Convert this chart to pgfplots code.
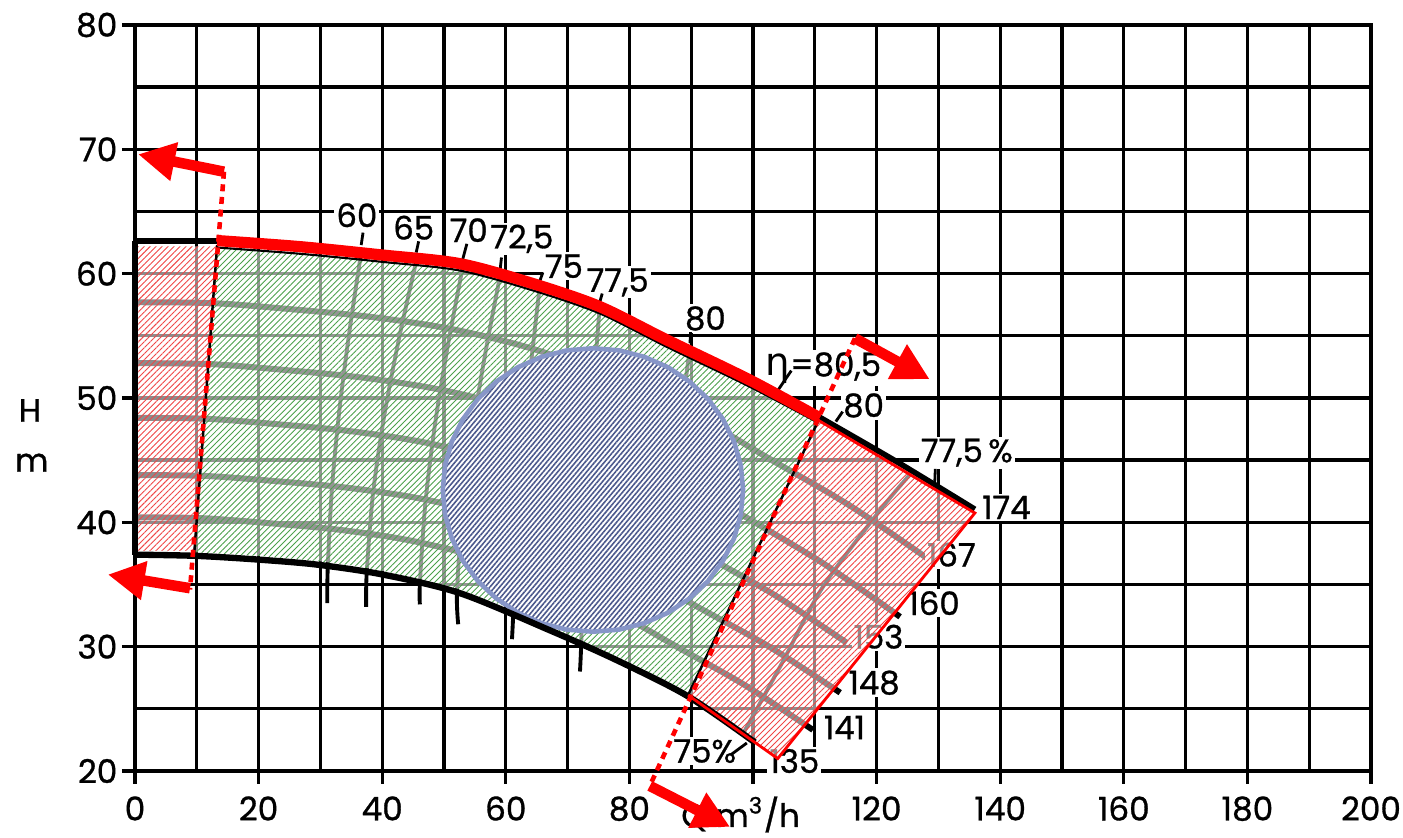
\documentclass[border=0pt]{standalone}
\usepackage{fontspec}
\setmainfont{Poppins}
\newfontfamily\lf{Poppins}[FakeBold=0.9]
\newfontfamily\gk{DejaVu Sans}
\usepackage{pgfplots}
\pgfplotsset{compat=1.18}
\usetikzlibrary{patterns,patterns.meta,arrows.meta}
\definecolor{hred}{RGB}{240,70,70}
\definecolor{hgreen}{RGB}{75,160,75}
\definecolor{hblue}{RGB}{75,88,140}
\definecolor{cblue}{RGB}{135,150,200}
\tikzset{
  hatchR/.style={pattern={Lines[angle=45,distance=1.2pt,line width=0.26pt]}, pattern color=hred},
  hatchG/.style={pattern={Lines[angle=45,distance=1.2pt,line width=0.25pt]}, pattern color=hgreen},
  hatchB/.style={pattern={Lines[angle=50,distance=1.05pt,line width=0.45pt]}, pattern color=hblue},
  lab/.style={fill=white, inner sep=0.6pt, font=\lf\fontsize{9.2}{11}\selectfont},
  bigarrow/.style={red, line width=3pt, -{Triangle[length=10.5pt,width=10.5pt]}},
  reddots/.style={red, line width=1.3pt, dash pattern=on 2pt off 1.6pt},
}
\begin{document}
\begin{tikzpicture}
\path[use as bounding box] (-1.35cm,-0.67cm) rectangle (12.68cm,7.71cm);
\begin{axis}[
  at={(0,0)}, anchor=south west,
  width=12.36cm, height=7.46cm, scale only axis,
  xmin=0, xmax=200, ymin=20, ymax=80,
  xtick={0,20,...,200}, ytick={20,30,...,80},
  xticklabels={0,20,40,60,80,,120,140,160,180,200},
  minor xtick={10,30,...,190}, minor ytick={25,35,...,75},
  tick pos=left, tick align=outside,
  major tick length=3.7pt, minor tick length=0pt,
  grid=both,
  major grid style={black, line width=0.95pt},
  minor grid style={black, line width=0.95pt},
  axis line style={black, line width=1pt},
  tick style={black, line width=0.95pt},
  clip=false,
  /pgf/number format/assume math mode=true,
  ticklabel style={font=\lf\fontsize{9.3}{11}\selectfont},
  yticklabel style={xshift=2.2pt},
]
% ---- head curves of intermediate impellers (appear grey under overlay)
\addplot[black,line width=1.7pt,smooth] coordinates {(0,57.7)(12.85,57.62)(25.7,57.12)(38.55,56.5)(51.4,55.53)(64.25,53.97)(77.1,51.7)(89.95,48.8)(102.8,45.07)(115.65,41.35)(128.5,37.0)};
\addplot[black,line width=1.7pt,smooth] coordinates {(0,52.8)(12.38,52.72)(24.76,52.23)(37.14,51.62)(49.52,50.66)(61.9,49.13)(74.28,46.88)(86.66,44.03)(99.04,40.36)(111.42,36.68)(123.8,32.4)};
\addplot[black,line width=1.7pt,smooth] coordinates {(0,48.4)(11.52,48.33)(23.04,47.89)(34.56,47.35)(46.08,46.5)(57.6,45.14)(69.12,43.15)(80.64,40.62)(92.16,37.36)(103.68,34.1)(115.2,30.3)};
\addplot[black,line width=1.7pt,smooth] coordinates {(0,43.8)(11.41,43.73)(22.82,43.31)(34.23,42.79)(45.64,41.96)(57.05,40.65)(68.46,38.73)(79.87,36.28)(91.28,33.13)(102.69,29.98)(114.1,26.3)};
\addplot[black,line width=1.7pt,smooth] coordinates {(0,40.4)(10.97,40.33)(21.94,39.92)(32.91,39.41)(43.88,38.6)(54.85,37.32)(65.82,35.44)(76.79,33.05)(87.76,29.97)(98.73,26.89)(109.7,23.3)};
% ---- iso-efficiency curves
\addplot[black,line width=1.1pt,smooth] coordinates {(36.6,61.7)(34.71,55.4)(33.09,49.1)(31.88,42.8)(31.2,36.5)(31.1,33.5)};
\addplot[black,line width=1.1pt,smooth] coordinates {(45.6,61.2)(42.77,54.9)(40.34,48.6)(38.51,42.3)(37.5,36.0)(37.4,33.2)};
\addplot[black,line width=1.1pt,smooth] coordinates {(53.1,60.7)(50.65,54.3)(48.55,47.9)(46.98,41.5)(46.1,35.1)(46.1,33.4)};
\addplot[black,line width=1.1pt,smooth] coordinates {(59.1,59.9)(56.65,53.5)(54.55,47.15)(52.98,40.8)(52.1,34.4)(52.3,31.8)};
\addplot[black,line width=1.1pt,smooth] coordinates {(65.5,59.0)(64.0,52.4)(62.7,45.8)(61.74,39.2)(61.2,32.6)(61.0,30.6)};
\addplot[black,line width=1.1pt,smooth] coordinates {(75.2,57.35)(74.15,50.6)(73.25,43.8)(72.6,37.0)(72.2,30.2)(72.0,28.0)};
\addplot[black,line width=1.1pt,smooth] coordinates {(89.8,54.0)(88.8,50.0)(88.5,46.0)};
\addplot[black,line width=1.1pt,smooth] coordinates {(98.4,23.0)(104.5,28.5)(111.3,34.8)(120.6,41.0)(125.5,43.9)};
% ---- labels
\node[lab] at (axis cs:35.9,64.7) {60};
\node[lab] at (axis cs:45.1,63.7) {65};
\node[lab] at (axis cs:54.0,63.5) {70};
\node[lab] at (axis cs:62.6,62.8) {72,5};
\node[lab] at (axis cs:69.4,60.6) {75};
\node[lab] at (axis cs:78.1,59.3) {77,5};
\node[lab] at (axis cs:92.3,56.4) {80};
\node[lab] at (axis cs:111.4,52.4) {{\gk\fontsize{11}{12}\selectfont η}=80,5};
\node[lab] at (axis cs:117.9,49.4) {80};
\node[lab] at (axis cs:134.6,45.6) {77,5\,\%};
\node[lab] at (axis cs:141.0,41.2) {174};
\node[lab] at (axis cs:132.1,37.4) {167};
\node[lab] at (axis cs:129.3,33.5) {160};
\node[lab] at (axis cs:120.3,30.8) {153};
\node[lab] at (axis cs:119.6,27.1) {148};
\node[lab] at (axis cs:114.8,23.5) {141};
\node[lab] at (axis cs:106.7,20.8) {135};
\node[lab] at (axis cs:92.2,21.6) {75\%};
% leaders
\addplot[black,line width=0.8pt] coordinates {(36.9,63.3)(36.6,62.3)};
\addplot[black,line width=0.8pt] coordinates {(45.9,62.6)(45.5,61.7)};
\addplot[black,line width=0.8pt] coordinates {(53.7,62.4)(53.0,61.1)};
\addplot[black,line width=0.8pt] coordinates {(59.3,61.3)(59.1,60.4)};
\addplot[black,line width=0.8pt] coordinates {(66.0,60.1)(65.5,59.4)};
\addplot[black,line width=0.8pt] coordinates {(75.6,58.4)(75.2,57.7)};
\addplot[black,line width=0.8pt] coordinates {(89.9,55.3)(89.8,54.4)};
\addplot[black,line width=0.8pt] coordinates {(114.5,48.9)(113.4,48.1)};
\addplot[black,line width=0.8pt] coordinates {(129.5,44.3)(129.4,43.1)};
\addplot[black,line width=0.8pt] coordinates {(106.2,52.2)(104.0,50.6)};
\addplot[black,line width=0.8pt] coordinates {(96.4,21.3)(99.0,22.25)};
% ---- overlays: left red rectangle
\addplot[draw=none, fill=white, fill opacity=0.55] coordinates {(0,62.2)(13.2,62.2)(9.6,37.7)(0,37.7)(0,62.2)};
\addplot[draw=none, hatchR] coordinates {(0,62.2)(13.2,62.2)(9.6,37.7)(0,37.7)(0,62.2)};
% green region (top curve, right edge, bottom curve, left edge)
\addplot[draw=none, fill=white, fill opacity=0.58] coordinates {(13.3,62.1)(20,61.9)(26.7,61.6)(33.3,61.3)(40,60.95)(46.3,60.65)(52.6,60.25)(58.5,59.5)(64.4,58.65)(69.8,57.8)(75.2,56.8)(80.6,55.5)(86.1,54.1)(92.8,52.5)(99.5,50.9)(105,49.5)(110.6,48.0)(89.5,26.3)(83.8,27.8)(78,29.2)(72.6,30.4)(67.2,31.6)(60,33.2)(52.6,34.6)(46.3,35.4)(40.1,36.1)(34.7,36.55)(29.4,36.9)(20,37.3)(9.7,37.6)(13.3,62.1)};
\addplot[draw=none, hatchG] coordinates {(13.3,62.1)(20,61.9)(26.7,61.6)(33.3,61.3)(40,60.95)(46.3,60.65)(52.6,60.25)(58.5,59.5)(64.4,58.65)(69.8,57.8)(75.2,56.8)(80.6,55.5)(86.1,54.1)(92.8,52.5)(99.5,50.9)(105,49.5)(110.6,48.0)(89.5,26.3)(83.8,27.8)(78,29.2)(72.6,30.4)(67.2,31.6)(60,33.2)(52.6,34.6)(46.3,35.4)(40.1,36.1)(34.7,36.55)(29.4,36.9)(20,37.3)(9.7,37.6)(13.3,62.1)};
% right red quadrilateral
\addplot[draw=none, fill=white, fill opacity=0.55] coordinates {(110.6,48.2)(135.9,40.75)(104,21.0)(89.5,26.1)(110.6,48.2)};
\addplot[draw=none, hatchR] coordinates {(110.6,48.2)(135.9,40.75)(104,21.0)(89.5,26.1)(110.6,48.2)};
% blue circle
\addplot[draw=none, fill=white] coordinates {(98.4,42.6)(98.03,44.58)(96.93,46.5)(95.14,48.3)(92.71,49.93)(89.72,51.33)(86.25,52.47)(82.41,53.31)(78.32,53.83)(74.1,54.0)(69.88,53.83)(65.79,53.31)(61.95,52.47)(58.48,51.33)(55.49,49.93)(53.06,48.3)(51.27,46.5)(50.17,44.58)(49.8,42.6)(50.17,40.62)(51.27,38.7)(53.06,36.9)(55.49,35.27)(58.48,33.87)(61.95,32.73)(65.79,31.89)(69.88,31.37)(74.1,31.2)(78.32,31.37)(82.41,31.89)(86.25,32.73)(89.72,33.87)(92.71,35.27)(95.14,36.9)(96.93,38.7)(98.03,40.62)(98.4,42.6)};
\addplot[draw=cblue, line width=1.3pt, line join=round, hatchB] coordinates {(98.4,42.6)(98.03,44.58)(96.93,46.5)(95.14,48.3)(92.71,49.93)(89.72,51.33)(86.25,52.47)(82.41,53.31)(78.32,53.83)(74.1,54.0)(69.88,53.83)(65.79,53.31)(61.95,52.47)(58.48,51.33)(55.49,49.93)(53.06,48.3)(51.27,46.5)(50.17,44.58)(49.8,42.6)(50.17,40.62)(51.27,38.7)(53.06,36.9)(55.49,35.27)(58.48,33.87)(61.95,32.73)(65.79,31.89)(69.88,31.37)(74.1,31.2)(78.32,31.37)(82.41,31.89)(86.25,32.73)(89.72,33.87)(92.71,35.27)(95.14,36.9)(96.93,38.7)(98.03,40.62)(98.4,42.6)};
% ---- boundaries
\addplot[black, line width=0.6pt, smooth] coordinates {(13.3,62.1)(26.7,61.6)(40,60.95)(52.6,60.25)(64.4,58.65)(75.2,56.8)(86.1,54.1)(99.5,50.9)(110.6,48.0)};
\addplot[black, line width=0.7pt] coordinates {(9.6,37.6)(13.3,62.3)};
\addplot[black, line width=0.7pt] coordinates {(89.5,26.1)(110.6,48.2)};
\addplot[black, line width=1.8pt, smooth] coordinates {(0,37.4)(10,37.3)(20,37.0)(29.4,36.6)(40.1,35.8)(52.6,34.3)(67.2,31.3)(78,28.9)(89.5,26.0)(100.3,22.3)};
\addplot[black, line width=1.8pt] coordinates {(0,62.6)(13.3,62.6)};
\addplot[black, line width=1.8pt] coordinates {(0,37.4)(0,62.6)};
\addplot[black, line width=1.6pt, smooth] coordinates {(110.6,48.5)(123,44.95)(135.9,41.05)};
\addplot[red, line width=0.8pt] coordinates {(89.5,26.1)(104,21.0)(135.9,40.75)(110.6,48.2)};
\addplot[red, line width=3.2pt, smooth] coordinates {(13.3,62.66)(26.7,62.17)(40,61.5)(52.6,60.8)(64.4,59.2)(75.2,57.35)(86.1,54.66)(99.5,51.44)(110.8,48.4)};
% ---- dotted red lines and arrows
\addplot[reddots] coordinates {(14.4,68.2)(8.9,34.6)};
\addplot[reddots] coordinates {(116.5,54.8)(83.3,18.8)};
\node[font=\lf\fontsize{9.2}{11}\selectfont] at (axis cs:98.0,16.5) {Q m\textsuperscript{3}/h};
\addplot[bigarrow] coordinates {(14.4,68.2)(0.5,69.6)};
\addplot[bigarrow] coordinates {(8.9,34.7)(-4.4,35.8)};
\addplot[bigarrow] coordinates {(116.5,54.8)(128.6,51.5)};
\addplot[bigarrow] coordinates {(83.3,18.8)(96.3,15.5)};
% axis labels
\node[font=\lf\fontsize{9.2}{11}\selectfont] at (axis cs:-17.0,49.0) {H};
\node[font=\lf\fontsize{9.2}{11}\selectfont] at (axis cs:-16.7,44.8) {m};
\end{axis}
\end{tikzpicture}
\end{document}
